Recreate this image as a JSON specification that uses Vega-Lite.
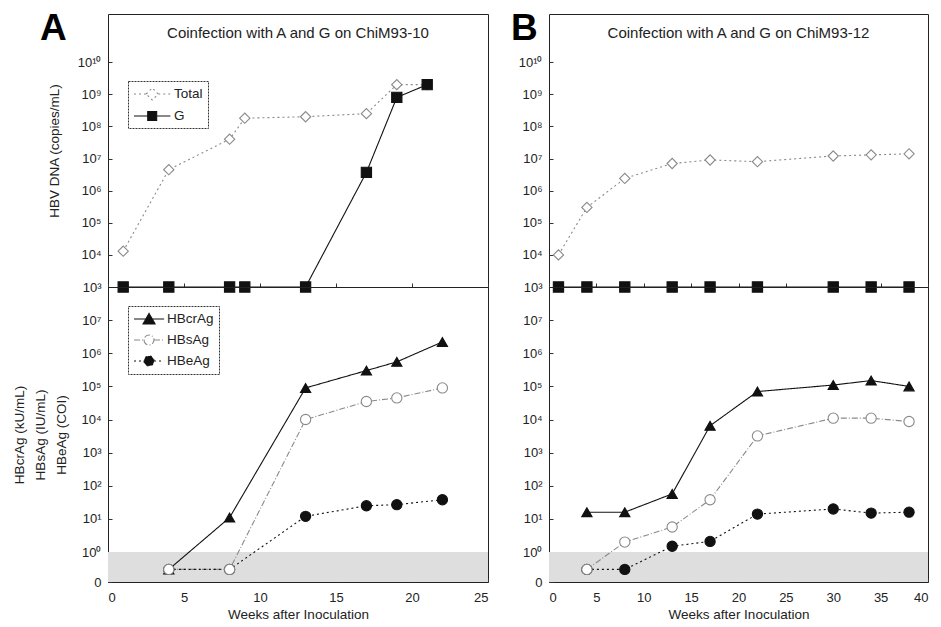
{
  "$schema": "https://vega.github.io/schema/vega-lite/v6.json",
  "padding": {"left": 12, "top": 9, "right": 5, "bottom": 5},
  "background": "white",
  "config": {
    "font": "Liberation Sans",
    "view": {"stroke": "#222", "strokeWidth": 1},
    "axis": {"grid": false, "domain": false, "tickColor": "#333", "tickSize": -4, "labelFont": "Liberation Sans", "labelFontSize": 13, "labelColor": "#222", "titleFont": "Liberation Sans", "titleFontWeight": "normal", "titleFontSize": 13.5, "titleColor": "#222", "labelPadding": 11},
    "axisX": {"labelPadding": 13},
    "title": {"font": "Liberation Sans", "fontWeight": "normal", "fontSize": 15, "color": "#222"},
    "legend": {"labelFont": "Liberation Sans", "labelFontSize": 13.5, "labelColor": "#222", "strokeColor": "#333", "padding": 5, "rowPadding": 5}
  },
  "datasets": {
    "a_dna": [
      {"week": 1, "value": 13000, "series": "Total"},
      {"week": 4, "value": 4500000, "series": "Total"},
      {"week": 8, "value": 40000000, "series": "Total"},
      {"week": 9, "value": 180000000, "series": "Total"},
      {"week": 13, "value": 200000000, "series": "Total"},
      {"week": 17, "value": 250000000, "series": "Total"},
      {"week": 19, "value": 2000000000, "series": "Total"},
      {"week": 21, "value": 2000000000, "series": "Total"},
      {"week": 1, "value": 1000, "series": "G"},
      {"week": 4, "value": 1000, "series": "G"},
      {"week": 8, "value": 1000, "series": "G"},
      {"week": 9, "value": 1000, "series": "G"},
      {"week": 13, "value": 1000, "series": "G"},
      {"week": 17, "value": 3700000, "series": "G"},
      {"week": 19, "value": 800000000, "series": "G"},
      {"week": 21, "value": 2000000000, "series": "G"}
    ],
    "a_ag": [
      {"week": 4, "value": 0.3, "series": "HBcrAg"},
      {"week": 8, "value": 11, "series": "HBcrAg"},
      {"week": 13, "value": 90000, "series": "HBcrAg"},
      {"week": 17, "value": 300000, "series": "HBcrAg"},
      {"week": 19, "value": 550000, "series": "HBcrAg"},
      {"week": 22, "value": 2200000, "series": "HBcrAg"},
      {"week": 4, "value": 0.3, "series": "HBsAg"},
      {"week": 8, "value": 0.3, "series": "HBsAg"},
      {"week": 13, "value": 10000, "series": "HBsAg"},
      {"week": 17, "value": 35000, "series": "HBsAg"},
      {"week": 19, "value": 45000, "series": "HBsAg"},
      {"week": 22, "value": 90000, "series": "HBsAg"},
      {"week": 4, "value": 0.3, "series": "HBeAg"},
      {"week": 8, "value": 0.3, "series": "HBeAg"},
      {"week": 13, "value": 12, "series": "HBeAg"},
      {"week": 17, "value": 25, "series": "HBeAg"},
      {"week": 19, "value": 27, "series": "HBeAg"},
      {"week": 22, "value": 38, "series": "HBeAg"}
    ],
    "b_dna": [
      {"week": 1, "value": 10000, "series": "Total"},
      {"week": 4, "value": 300000, "series": "Total"},
      {"week": 8, "value": 2400000, "series": "Total"},
      {"week": 13, "value": 7000000, "series": "Total"},
      {"week": 17, "value": 9000000, "series": "Total"},
      {"week": 22, "value": 8000000, "series": "Total"},
      {"week": 30, "value": 12000000, "series": "Total"},
      {"week": 34, "value": 13000000, "series": "Total"},
      {"week": 38, "value": 14000000, "series": "Total"},
      {"week": 1, "value": 1000, "series": "G"},
      {"week": 4, "value": 1000, "series": "G"},
      {"week": 8, "value": 1000, "series": "G"},
      {"week": 13, "value": 1000, "series": "G"},
      {"week": 17, "value": 1000, "series": "G"},
      {"week": 22, "value": 1000, "series": "G"},
      {"week": 30, "value": 1000, "series": "G"},
      {"week": 34, "value": 1000, "series": "G"},
      {"week": 38, "value": 1000, "series": "G"}
    ],
    "b_ag": [
      {"week": 4, "value": 16, "series": "HBcrAg"},
      {"week": 8, "value": 16, "series": "HBcrAg"},
      {"week": 13, "value": 57, "series": "HBcrAg"},
      {"week": 17, "value": 6500, "series": "HBcrAg"},
      {"week": 22, "value": 70000, "series": "HBcrAg"},
      {"week": 30, "value": 110000, "series": "HBcrAg"},
      {"week": 34, "value": 150000, "series": "HBcrAg"},
      {"week": 38, "value": 100000, "series": "HBcrAg"},
      {"week": 4, "value": 0.3, "series": "HBsAg"},
      {"week": 8, "value": 2, "series": "HBsAg"},
      {"week": 13, "value": 5.7, "series": "HBsAg"},
      {"week": 17, "value": 38, "series": "HBsAg"},
      {"week": 22, "value": 3200, "series": "HBsAg"},
      {"week": 30, "value": 11000, "series": "HBsAg"},
      {"week": 34, "value": 11000, "series": "HBsAg"},
      {"week": 38, "value": 8700, "series": "HBsAg"},
      {"week": 4, "value": 0.3, "series": "HBeAg"},
      {"week": 8, "value": 0.3, "series": "HBeAg"},
      {"week": 13, "value": 1.5, "series": "HBeAg"},
      {"week": 17, "value": 2.1, "series": "HBeAg"},
      {"week": 22, "value": 14, "series": "HBeAg"},
      {"week": 30, "value": 20, "series": "HBeAg"},
      {"week": 34, "value": 15, "series": "HBeAg"},
      {"week": 38, "value": 16, "series": "HBeAg"}
    ],
    "labels": [{"panel": "A"}, {"panel": "B"}]
  },
  "spacing": 21,
  "resolve": {"scale": {"x": "independent", "y": "independent", "color": "independent", "shape": "independent", "fill": "independent", "stroke": "independent", "strokeDash": "independent", "size": "independent"}, "legend": {"color": "independent", "shape": "independent", "fill": "independent", "stroke": "independent", "strokeDash": "independent", "size": "independent"}},
  "hconcat": [
    {
      "bounds": "flush",
      "spacing": 0,
      "resolve": {"scale": {"x": "independent", "y": "independent", "color": "independent", "shape": "independent", "fill": "independent", "stroke": "independent", "strokeDash": "independent", "size": "independent"}, "legend": {"color": "independent", "shape": "independent", "fill": "independent", "stroke": "independent", "strokeDash": "independent", "size": "independent"}},
      "vconcat": [
        {
          "width": 380, "height": 273,
          "title": {"text": "Coinfection with A and G on ChiM93-10", "offset": -31, "anchor": "middle"},
          "layer": [
            {
              "data": {"name": "labels"},
              "transform": [{"filter": "datum.panel === 'A'"}],
              "mark": {"type": "text", "fontSize": 37, "fontWeight": "bold", "font": "Liberation Sans", "align": "center", "baseline": "middle", "color": "#000"},
              "encoding": {"text": {"field": "panel"}, "x": {"datum": -3.6}, "y": {"datum": 110000000000}}
            },
            {
              "data": {"name": "a_dna"},
              "mark": {"type": "line", "strokeWidth": 1.1},
              "encoding": {
                "x": {"field": "week", "type": "quantitative", "scale": {"domain": [0, 25], "nice": false}, "axis": {"labels": false, "title": null, "values": [0, 5, 10, 15, 20, 25]}},
                "y": {"field": "value", "type": "quantitative", "scale": {"type": "log", "domain": [1000, 316227766017], "nice": false}, "axis": {"title": "HBV DNA (copies/mL)", "values": [1000, 10000, 100000, 1000000, 10000000, 100000000, 1000000000, 10000000000], "labelExpr": "'10' + (round(log(datum.value)/LN10) == 10 ? '¹⁰' : ['⁰','¹','²','³','⁴','⁵','⁶','⁷','⁸','⁹'][round(log(datum.value)/LN10)])", "titlePadding": 16}},
                "color": {"field": "series", "type": "nominal", "scale": {"domain": ["Total", "G"], "range": ["#8a8a8a", "#111"]},
                  "legend": {"title": null, "orient": "none", "legendX": 20, "legendY": 67, "symbolSize": 196, "labelOffset": 25,
                    "encode": {
                      "legend": {"update": {"strokeDash": {"value": [2, 1]}}},
                      "symbols": {"update": {
                        "shape": {"signal": "datum.value === 'Total' ? 'M-1,0L0.74,0M0.74,0L1.6,-0.86L2.46,0L1.6,0.86ZM2.46,0L4.2,0' : 'M-1,0L0.96,0M0.96,-0.64L2.24,-0.64L2.24,0.64L0.96,0.64ZM2.24,0L4.2,0'"},
                        "fill": {"signal": "datum.value === 'Total' ? 'white' : '#111'"},
                        "stroke": {"signal": "datum.value === 'Total' ? '#8a8a8a' : '#111'"},
                        "strokeDash": {"signal": "datum.value === 'Total' ? [2, 2] : [1, 0]"},
                        "strokeWidth": {"value": 1.1},
                        "size": {"value": 196},
                        "opacity": {"value": 1}
                      }}
                    }}},
                "strokeDash": {"field": "series", "type": "nominal", "scale": {"domain": ["Total", "G"], "range": [[2, 3], [1, 0]]}}
              }
            },
            {
              "data": {"name": "a_dna"},
              "mark": {"type": "point", "opacity": 1, "strokeWidth": 1.1},
              "encoding": {
                "x": {"field": "week", "type": "quantitative"},
                "y": {"field": "value", "type": "quantitative"},
                "shape": {"field": "series", "type": "nominal", "scale": {"domain": ["G", "Total"], "range": ["square", "diamond"]}, "legend": null},
                "fill": {"field": "series", "type": "nominal", "scale": {"domain": ["Total", "G"], "range": ["white", "#111"]}},
                "stroke": {"field": "series", "type": "nominal", "scale": {"domain": ["Total", "G"], "range": ["#8a8a8a", "#111"]}},
                "size": {"value": 105}
              }
            }
          ]
        },
        {
          "width": 380, "height": 295,
          "layer": [
            {
              "mark": {"type": "rect", "color": "#dedede"},
              "data": {"values": [{}]},
              "encoding": {"x": {"datum": 0}, "x2": {"datum": 25}, "y": {"datum": 0.125}, "y2": {"datum": 1}}
            },
            {
              "data": {"name": "a_ag"},
              "mark": {"type": "line", "strokeWidth": 1.1},
              "encoding": {
                "x": {"field": "week", "type": "quantitative", "scale": {"domain": [0, 25], "nice": false}, "axis": {"title": "Weeks after Inoculation", "values": [0, 5, 10, 15, 20, 25], "titlePadding": 3}},
                "y": {"field": "value", "type": "quantitative", "scale": {"type": "log", "domain": [0.125, 100000000], "nice": false}, "axis": {"title": ["HBcrAg (kU/mL)", "HBsAg (IU/mL)", "HBeAg (COI)"], "titleLineHeight": 21, "values": [0.125, 1, 10, 100, 1000, 10000, 100000, 1000000, 10000000], "labelExpr": "datum.value < 0.5 ? '0' : '10' + ['⁰','¹','²','³','⁴','⁵','⁶','⁷','⁸','⁹'][round(log(datum.value)/LN10)]", "titlePadding": 12}},
                "color": {"field": "series", "type": "nominal", "scale": {"domain": ["HBcrAg", "HBsAg", "HBeAg"], "range": ["#111", "#8a8a8a", "#111"]},
                  "legend": {"title": null, "orient": "none", "legendX": 20, "legendY": 19, "symbolSize": 196, "labelOffset": 18,
                    "encode": {
                      "legend": {"update": {"strokeDash": {"value": [2, 1]}}},
                      "symbols": {"update": {
                        "shape": {"signal": "datum.value === 'HBcrAg' ? 'M-1,0L3.3,0M0.29,0.7L1.15,-0.8L2.01,0.7Z' : 'M-1,0L0.44,0M0.44,0A0.71,0.71 0 1,0 1.86,0A0.71,0.71 0 1,0 0.44,0ZM1.86,0L3.3,0'"},
                        "fill": {"signal": "datum.value === 'HBsAg' ? 'white' : '#111'"},
                        "stroke": {"signal": "datum.value === 'HBsAg' ? '#8a8a8a' : '#111'"},
                        "strokeDash": {"signal": "datum.value === 'HBcrAg' ? [1, 0] : datum.value === 'HBsAg' ? [4, 2, 1, 2] : [2, 3]"},
                        "strokeWidth": {"value": 1.1},
                        "size": {"value": 196},
                        "opacity": {"value": 1}
                      }}
                    }}},
                "strokeDash": {"field": "series", "type": "nominal", "scale": {"domain": ["HBcrAg", "HBsAg", "HBeAg"], "range": [[1, 0], [6, 2, 1, 2], [2, 3]]}}
              }
            },
            {
              "data": {"name": "a_ag"},
              "mark": {"type": "point", "opacity": 1, "strokeWidth": 1.1},
              "encoding": {
                "x": {"field": "week", "type": "quantitative"},
                "y": {"field": "value", "type": "quantitative"},
                "shape": {"field": "series", "type": "nominal", "scale": {"domain": ["HBeAg", "HBsAg", "HBcrAg"], "range": ["circle", "circle", "triangle-up"]}, "legend": null},
                "fill": {"field": "series", "type": "nominal", "scale": {"domain": ["HBcrAg", "HBsAg", "HBeAg"], "range": ["#111", "white", "#111"]}},
                "stroke": {"field": "series", "type": "nominal", "scale": {"domain": ["HBcrAg", "HBsAg", "HBeAg"], "range": ["#111", "#8a8a8a", "#111"]}},
                "size": {"value": 105},
                "order": {"field": "series", "sort": "ascending"}
              }
            }
          ]
        }
      ]
    },
    {
      "bounds": "flush",
      "spacing": 0,
      "resolve": {"scale": {"x": "independent", "y": "independent", "color": "independent", "shape": "independent", "fill": "independent", "stroke": "independent", "strokeDash": "independent", "size": "independent"}, "legend": {"color": "independent", "shape": "independent", "fill": "independent", "stroke": "independent", "strokeDash": "independent", "size": "independent"}},
      "vconcat": [
        {
          "width": 379, "height": 273,
          "title": {"text": "Coinfection with A and G on ChiM93-12", "offset": -31, "anchor": "middle"},
          "layer": [
            {
              "data": {"name": "labels"},
              "transform": [{"filter": "datum.panel === 'B'"}],
              "mark": {"type": "text", "fontSize": 37, "fontWeight": "bold", "font": "Liberation Sans", "align": "center", "baseline": "middle", "color": "#000"},
              "encoding": {"text": {"field": "panel"}, "x": {"datum": -2.6}, "y": {"datum": 110000000000}}
            },
            {
              "data": {"name": "b_dna"},
              "mark": {"type": "line", "strokeWidth": 1.1},
              "encoding": {
                "x": {"field": "week", "type": "quantitative", "scale": {"domain": [0, 40], "nice": false}, "axis": {"labels": false, "title": null, "values": [0, 5, 10, 15, 20, 25, 30, 35, 40]}},
                "y": {"field": "value", "type": "quantitative", "scale": {"type": "log", "domain": [1000, 316227766017], "nice": false}, "axis": {"title": null, "values": [1000, 10000, 100000, 1000000, 10000000, 100000000, 1000000000, 10000000000], "labelExpr": "'10' + (round(log(datum.value)/LN10) == 10 ? '¹⁰' : ['⁰','¹','²','³','⁴','⁵','⁶','⁷','⁸','⁹'][round(log(datum.value)/LN10)])"}},
                "color": {"field": "series", "type": "nominal", "scale": {"domain": ["Total", "G"], "range": ["#8a8a8a", "#111"]}, "legend": null},
                "strokeDash": {"field": "series", "type": "nominal", "scale": {"domain": ["Total", "G"], "range": [[2, 3], [1, 0]]}, "legend": null}
              }
            },
            {
              "data": {"name": "b_dna"},
              "mark": {"type": "point", "opacity": 1, "strokeWidth": 1.1},
              "encoding": {
                "x": {"field": "week", "type": "quantitative"},
                "y": {"field": "value", "type": "quantitative"},
                "shape": {"field": "series", "type": "nominal", "scale": {"domain": ["Total", "G"], "range": ["diamond", "square"]}, "legend": null},
                "fill": {"field": "series", "type": "nominal", "scale": {"domain": ["Total", "G"], "range": ["white", "#111"]}, "legend": null},
                "stroke": {"field": "series", "type": "nominal", "scale": {"domain": ["Total", "G"], "range": ["#8a8a8a", "#111"]}, "legend": null},
                "size": {"value": 105}
              }
            }
          ]
        },
        {
          "width": 379, "height": 295,
          "layer": [
            {
              "mark": {"type": "rect", "color": "#dedede"},
              "data": {"values": [{}]},
              "encoding": {"x": {"datum": 0}, "x2": {"datum": 40}, "y": {"datum": 0.125}, "y2": {"datum": 1}}
            },
            {
              "data": {"name": "b_ag"},
              "mark": {"type": "line", "strokeWidth": 1.1},
              "encoding": {
                "x": {"field": "week", "type": "quantitative", "scale": {"domain": [0, 40], "nice": false}, "axis": {"title": "Weeks after Inoculation", "values": [0, 5, 10, 15, 20, 25, 30, 35, 40], "titlePadding": 3}},
                "y": {"field": "value", "type": "quantitative", "scale": {"type": "log", "domain": [0.125, 100000000], "nice": false}, "axis": {"title": null, "values": [0.125, 1, 10, 100, 1000, 10000, 100000, 1000000, 10000000], "labelExpr": "datum.value < 0.5 ? '0' : '10' + ['⁰','¹','²','³','⁴','⁵','⁶','⁷','⁸','⁹'][round(log(datum.value)/LN10)]"}},
                "color": {"field": "series", "type": "nominal", "scale": {"domain": ["HBcrAg", "HBsAg", "HBeAg"], "range": ["#111", "#8a8a8a", "#111"]}, "legend": null},
                "strokeDash": {"field": "series", "type": "nominal", "scale": {"domain": ["HBcrAg", "HBsAg", "HBeAg"], "range": [[1, 0], [6, 2, 1, 2], [2, 3]]}, "legend": null}
              }
            },
            {
              "data": {"name": "b_ag"},
              "mark": {"type": "point", "opacity": 1, "strokeWidth": 1.1},
              "encoding": {
                "x": {"field": "week", "type": "quantitative"},
                "y": {"field": "value", "type": "quantitative"},
                "shape": {"field": "series", "type": "nominal", "scale": {"domain": ["HBcrAg", "HBsAg", "HBeAg"], "range": ["triangle-up", "circle", "circle"]}, "legend": null},
                "fill": {"field": "series", "type": "nominal", "scale": {"domain": ["HBcrAg", "HBsAg", "HBeAg"], "range": ["#111", "white", "#111"]}, "legend": null},
                "stroke": {"field": "series", "type": "nominal", "scale": {"domain": ["HBcrAg", "HBsAg", "HBeAg"], "range": ["#111", "#8a8a8a", "#111"]}, "legend": null},
                "size": {"value": 105},
                "order": {"field": "series", "sort": "ascending"}
              }
            }
          ]
        }
      ]
    }
  ]
}
